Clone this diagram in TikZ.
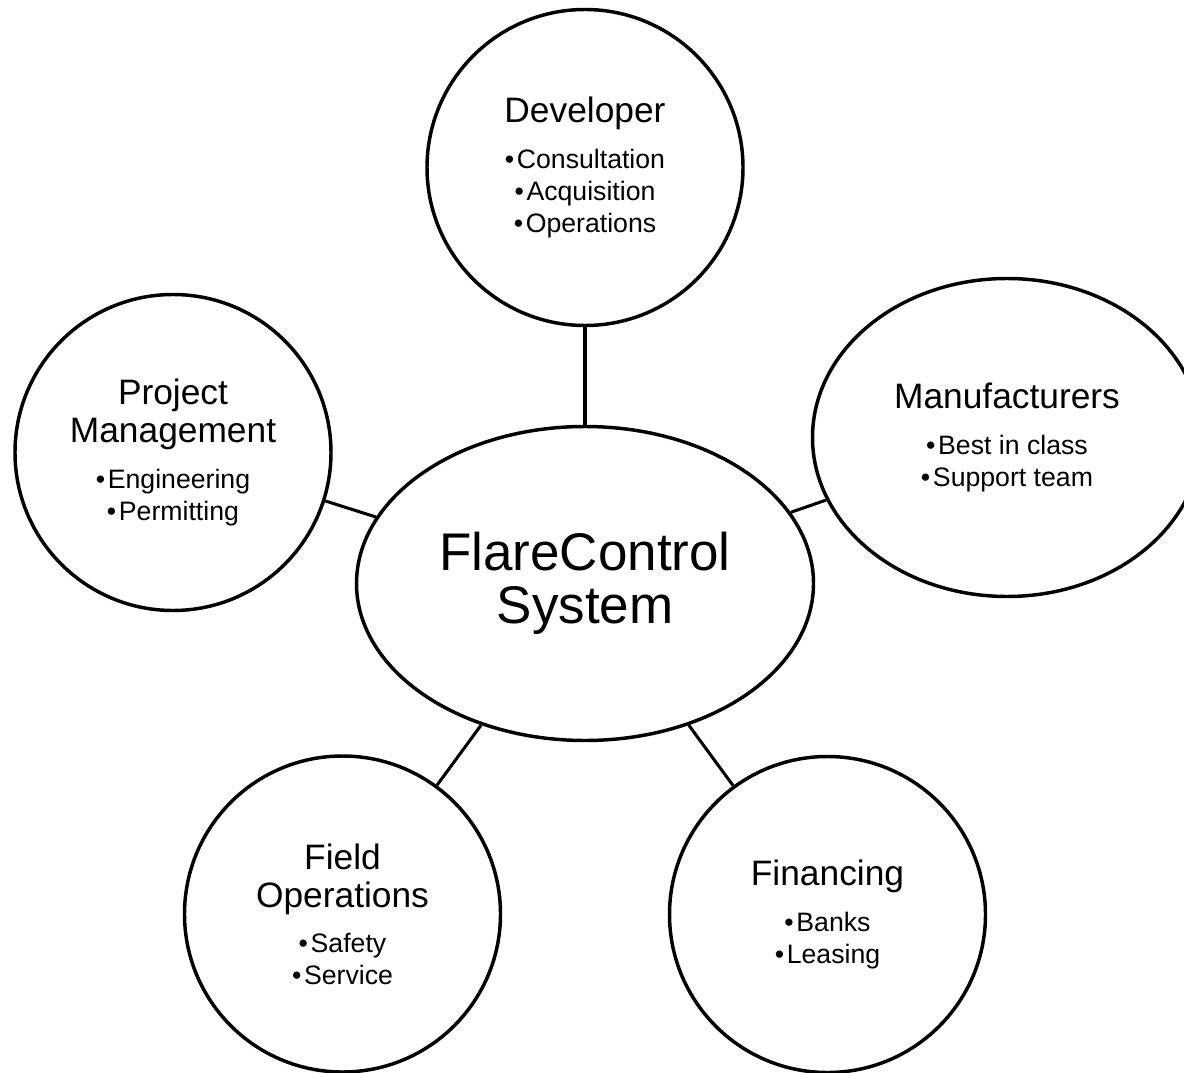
\documentclass[tikz,border=0pt]{standalone}
\usepackage{fontspec}
\setmainfont{Liberation Sans}
\usetikzlibrary{shapes.geometric}
\newcommand{\headsize}{\fontsize{26.5}{30}\selectfont}
\newcommand{\titlesize}{\fontsize{39.75}{39.75}\selectfont}
\newcommand{\bul}{•\hspace{2pt}}
\begin{document}
\begin{tikzpicture}[x=0.75pt, y=-0.75pt,
    bubble/.style={draw, circle, line width=2.6pt, minimum size=237pt, inner sep=0pt,
        align=center, font=\fontsize{20}{24}\selectfont},
    oval/.style={draw, ellipse, line width=2.6pt, inner sep=0pt,
        align=center, font=\fontsize{20}{24}\selectfont},
    link/.style={line width=2.3pt}]
    \useasboundingbox (0,0) rectangle (1184,1073);
    \clip (0,0) rectangle (1184,1073);
    \begin{scope}
        \node[oval, minimum width=342.75pt, minimum height=235.5pt, font=\titlesize] (FCS) at (585,583.5) {FlareControl\\System};
        \node[bubble] (Dev) at (585,167.5) {{\headsize Developer}\\[10pt] \bul Consultation\\ \bul Acquisition\\ \bul Operations};
        \node[bubble] (PM) at (173,452.5) {{\headsize Project}\\[4.5pt] {\headsize Management}\\[10pt] \bul Engineering\\ \bul Permitting};
        \node[oval, minimum width=291.75pt, minimum height=238.5pt] (Man) at (1007,437.5) {{\headsize Manufacturers}\\[10pt] \bul Best in class\\ \bul Support team};
        \node[bubble] (FO) at (342.5,914) {{\headsize Field}\\[4.5pt] {\headsize Operations}\\[10pt] \bul Safety\\ \bul Service};
        \node[bubble] (Fin) at (827.5,914.5) {{\headsize Financing}\\[10pt] \bul Banks\\ \bul Leasing};
        \draw[link] (FCS) -- (Dev);
        \draw[link] (FCS) -- (PM);
        \draw[link] (FCS) -- (Man);
        \draw[link] (FCS) -- (FO);
        \draw[link] (FCS) -- (Fin);
    \end{scope}
\end{tikzpicture}
\end{document}
